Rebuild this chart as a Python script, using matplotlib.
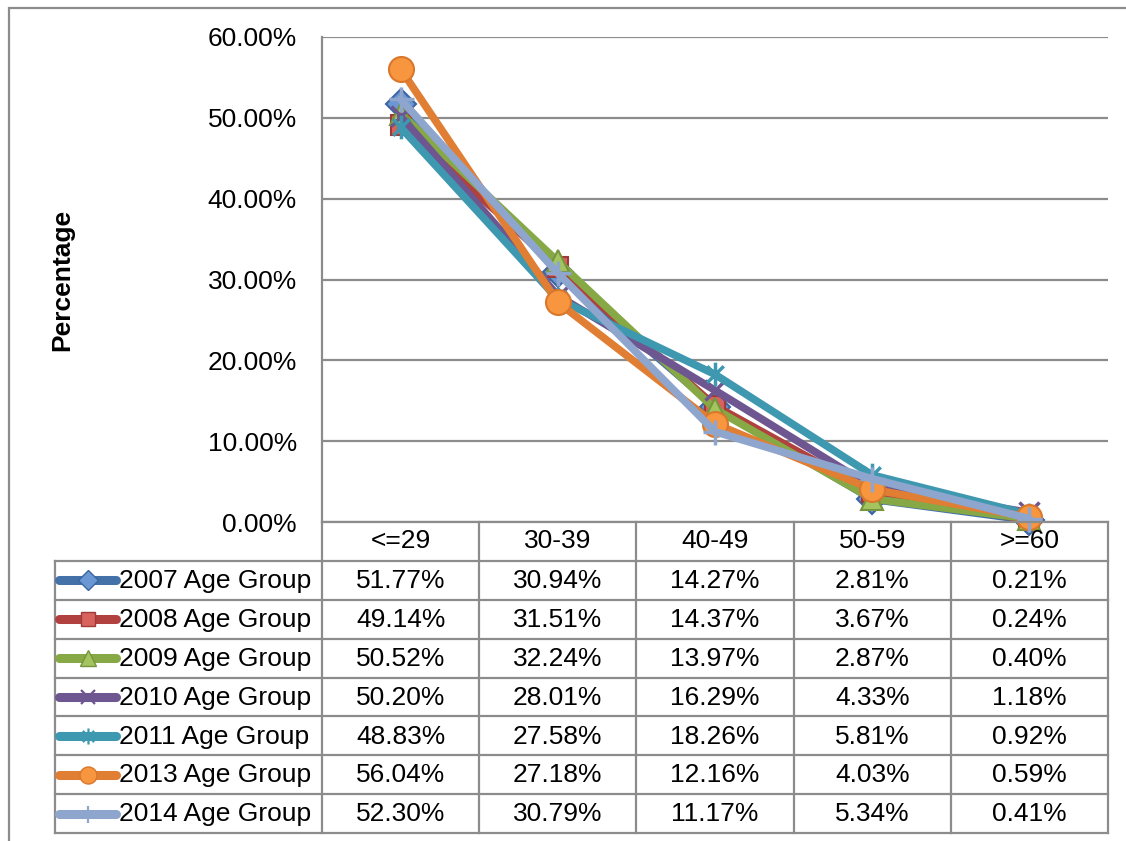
import matplotlib
matplotlib.use("Agg")
import matplotlib.pyplot as plt
from matplotlib.lines import Line2D
from matplotlib.patches import Rectangle
from matplotlib.path import Path

plt.rcParams['font.family'] = ['Liberation Sans', 'DejaVu Sans']

categories = ["<=29", "30-39", "40-49", "50-59", ">=60"]
series_names = ["2007 Age Group", "2008 Age Group", "2009 Age Group", "2010 Age Group",
                "2011 Age Group", "2013 Age Group", "2014 Age Group"]
v2007 = [51.77, 30.94, 14.27, 2.81, 0.21]
v2008 = [49.14, 31.51, 14.37, 3.67, 0.24]
v2009 = [50.52, 32.24, 13.97, 2.87, 0.40]
v2010 = [50.20, 28.01, 16.29, 4.33, 1.18]
v2011 = [48.83, 27.58, 18.26, 5.81, 0.92]
v2013 = [56.04, 27.18, 12.16, 4.03, 0.59]
v2014 = [52.30, 30.79, 11.17, 5.34, 0.41]
series_values = [v2007, v2008, v2009, v2010, v2011, v2013, v2014]
y_ticks = [0, 10, 20, 30, 40, 50, 60]

# Excel "star" marker: an x with a vertical bar
star = Path([(-0.7, -0.7), (0.7, 0.7), (-0.7, 0.7), (0.7, -0.7), (0, -1), (0, 1)],
            [Path.MOVETO, Path.LINETO, Path.MOVETO, Path.LINETO, Path.MOVETO, Path.LINETO])

# styles: line colour, marker, marker face, marker edge, marker size
styles = [
    ("#4471A8", "D", "#6B98D4", "#3B64A0", 15),
    ("#B0413E", "s", "#D8625E", "#9E3A37", 15),
    ("#86A845", "^", "#A3C45E", "#76953D", 16),
    ("#6E5690", "x", "#6E5690", "#6E5690", 15),
    ("#3E98B0", star, "#3E98B0", "#3E98B0", 17),
    ("#E07E34", "o", "#F7963E", "#D9772C", 18),
    ("#8EA6CE", "+", "#8EA6CE", "#8EA6CE", 18),
]

def is_line_marker(mk):
    return not isinstance(mk, str) or mk in ("x", "+")

W, H = 1126, 841
fig = plt.figure(figsize=(W / 100, H / 100), dpi=100)

def fx(px):
    return px / W

def fy(py):
    return 1 - py / H

grid_c = "#8C8C8C"
FS = 19

# outer frame
fig.patches.append(Rectangle((fx(9), fy(900)), fx(1200), fy(8) - fy(900), transform=fig.transFigure,
                             fill=False, edgecolor=grid_c, linewidth=1.6))

left_px, right_px, top_px, bot_px = 322, 1108, 37, 522
ax = fig.add_axes([fx(left_px), fy(bot_px), fx(right_px - left_px), fy(top_px) - fy(bot_px)])
ax.set_xlim(-0.5, len(categories) - 0.5)
ax.set_ylim(0, 60)
ax.set_yticks(y_ticks)
ax.set_yticklabels([f"{t:.2f}%" for t in y_ticks], fontsize=FS)
ax.set_xticks([])
ax.tick_params(axis='y', length=0, pad=18)
for s in ["top", "right", "bottom"]:
    ax.spines[s].set_visible(False)
ax.spines["left"].set_color(grid_c)
ax.spines["left"].set_linewidth(1.6)
ax.grid(axis='y', color=grid_c, linewidth=1.6)
ax.set_axisbelow(True)

xs = list(range(len(categories)))
for vals, (lc, mk, mf, me, ms) in zip(series_values, styles):
    ax.plot(xs, vals, color=lc, linewidth=5.5, marker=mk, markersize=ms,
            markerfacecolor=mf, markeredgecolor=me,
            markeredgewidth=2.5 if is_line_marker(mk) else 1.5,
            clip_on=False, solid_capstyle='round', solid_joinstyle='round')

fig.text(fx(62), fy(280), "Percentage", rotation=90, ha="center", va="center",
         fontsize=FS, fontweight="bold")

# data table
tab_left, tab_top, tab_bot = 55, 522, 833
col_w = (right_px - left_px) / len(categories)
leg_w = (left_px - tab_left) / col_w
nrows = len(series_names) + 1
tab = fig.add_axes([fx(tab_left), fy(tab_bot), fx(right_px - tab_left), fy(tab_top) - fy(tab_bot)])
x0 = -0.5 - leg_w
tab.set_xlim(x0, len(categories) - 0.5)
tab.set_ylim(nrows, 0)
tab.axis("off")

lw = 1.6
for r in range(nrows + 1):
    xa = -0.5 if r == 0 else x0
    tab.plot([xa, len(categories) - 0.5], [r, r], color=grid_c, linewidth=lw, clip_on=False)
for c in range(len(categories) + 1):
    tab.plot([c - 0.5, c - 0.5], [0, nrows], color=grid_c, linewidth=lw, clip_on=False)
tab.plot([x0, x0], [1, nrows], color=grid_c, linewidth=lw, clip_on=False)

for i, cat in enumerate(categories):
    tab.text(i, 0.5, cat, ha="center", va="center", fontsize=FS)

def px2x(px):
    return x0 + (px - tab_left) / col_w

for r, (name, vals, (lc, mk, mf, me, ms)) in enumerate(zip(series_names, series_values, styles), start=1):
    yc = r + 0.5
    tab.add_line(Line2D([px2x(59), px2x(116)], [yc, yc], color=lc, linewidth=6.5,
                        solid_capstyle='round'))
    tab.add_line(Line2D([px2x(88)], [yc], marker=mk, markersize=ms * 0.68, markerfacecolor=mf,
                        markeredgecolor=me, color=lc,
                        markeredgewidth=1.6 if is_line_marker(mk) else 1.0))
    tab.text(px2x(119), yc + 0.02, name, ha="left", va="center", fontsize=FS)
    for i, v in enumerate(vals):
        tab.text(i, yc + 0.02, f"{v:.2f}%", ha="center", va="center", fontsize=FS)

fig.savefig("out.png", dpi=100)
